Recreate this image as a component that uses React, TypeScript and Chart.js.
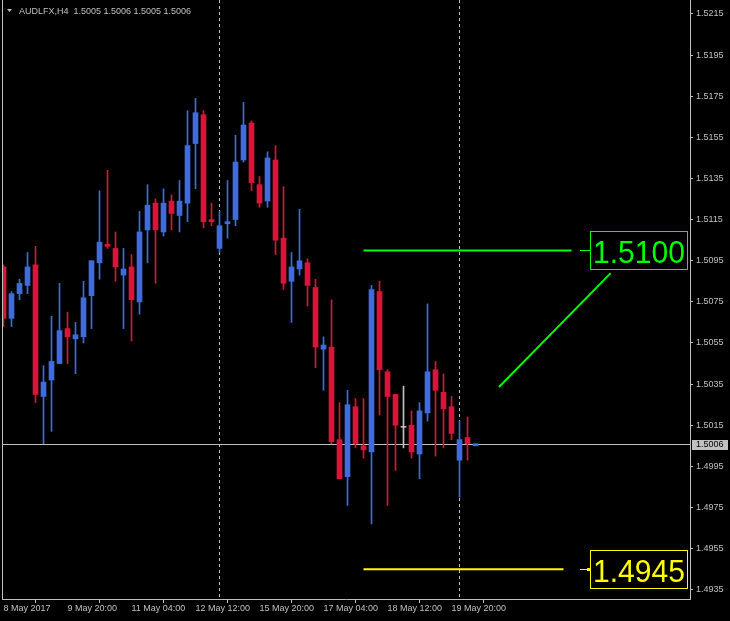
import React, { useEffect, useRef } from 'react';
import { Chart, registerables } from 'chart.js';

Chart.register(...registerables);

const symbol = 'AUDLFX';
const timeframe = 'H4';

const opens = [
  1.5092, 1.5067, 1.5079, 1.5083, 1.5093, 1.5029, 1.5037, 1.5045, 1.5062, 1.5057,
  1.5058, 1.5078, 1.5094, 1.5103, 1.5101, 1.5088, 1.5092, 1.5075, 1.5110, 1.5123,
  1.5109, 1.5124, 1.5117, 1.5123, 1.5152, 1.5166, 1.5115, 1.5101, 1.5113, 1.5115,
  1.5144, 1.5162, 1.5132, 1.5124, 1.5144, 1.5106, 1.5085, 1.5091, 1.5094, 1.5082,
  1.5052, 1.5053, 1.5008, 1.4990, 1.5024, 1.5005, 1.5002, 1.5080, 1.5041, 1.5030,
  1.5014, 1.5015, 1.5001, 1.5021, 1.5042, 1.5031, 1.5024, 1.4998, 1.5009, 1.5005,
];
const highs = [
  1.5093, 1.5080, 1.5086, 1.5099, 1.5102, 1.5044, 1.5068, 1.5084, 1.5070, 1.5065,
  1.5085, 1.5095, 1.5129, 1.5139, 1.5109, 1.5101, 1.5098, 1.5119, 1.5132, 1.5125,
  1.5130, 1.5127, 1.5134, 1.5168, 1.5174, 1.5168, 1.5123, 1.5119, 1.5134, 1.5156,
  1.5172, 1.5163, 1.5136, 1.5148, 1.5151, 1.5131, 1.5099, 1.5120, 1.5096, 1.5086,
  1.5058, 1.5076, 1.5026, 1.5032, 1.5028, 1.5028, 1.5083, 1.5085, 1.5042, 1.5030,
  1.5034, 1.5022, 1.5026, 1.5074, 1.5046, 1.5040, 1.5029, 1.5017, 1.5019, 1.5006,
];
const lows = [
  1.5063, 1.5063, 1.5076, 1.5079, 1.5026, 1.5006, 1.5012, 1.5045, 1.5045, 1.5040,
  1.5055, 1.5062, 1.5086, 1.5101, 1.5085, 1.5062, 1.5056, 1.5069, 1.5094, 1.5084,
  1.5107, 1.5110, 1.5109, 1.5114, 1.5130, 1.5111, 1.5112, 1.5099, 1.5106, 1.5112,
  1.5143, 1.5129, 1.5121, 1.5121, 1.5098, 1.5081, 1.5065, 1.5088, 1.5073, 1.5043,
  1.5032, 1.5006, 1.4989, 1.4976, 1.5004, 1.4999, 1.4967, 1.5020, 1.4976, 1.4993,
  1.5004, 1.4999, 1.4989, 1.5017, 1.5000, 1.5004, 1.5008, 1.4980, 1.4998, 1.5005,
];
const closes = [
  1.5067, 1.5079, 1.5084, 1.5092, 1.5030, 1.5036, 1.5046, 1.5061, 1.5058, 1.5059,
  1.5077, 1.5095, 1.5104, 1.5102, 1.5092, 1.5091, 1.5076, 1.5109, 1.5122, 1.5110,
  1.5123, 1.5118, 1.5124, 1.5151, 1.5167, 1.5114, 1.5114, 1.5112, 1.5114, 1.5143,
  1.5161, 1.5133, 1.5123, 1.5145, 1.5105, 1.5084, 1.5092, 1.5095, 1.5083, 1.5053,
  1.5054, 1.5007, 1.4989, 1.5025, 1.5006, 1.5003, 1.5081, 1.5042, 1.5029, 1.5015,
  1.5014, 1.5002, 1.5022, 1.5041, 1.5032, 1.5023, 1.5011, 1.5008, 1.5006, 1.5006,
];

const timeTickIndex = [0, 8, 16, 24, 32, 40, 48, 56];
const timeTickLabels = [
  '8 May 2017', '9 May 20:00', '11 May 04:00', '12 May 12:00',
  '15 May 20:00', '17 May 04:00', '18 May 12:00', '19 May 20:00',
];
const weekSeparators = [27, 57];
const priceTicks = [
  1.5215, 1.5195, 1.5175, 1.5155, 1.5135, 1.5115, 1.5095, 1.5075,
  1.5055, 1.5035, 1.5015, 1.4995, 1.4975, 1.4955, 1.4935,
];
const bidPrice = 1.5006;

const levelPrices = [1.51, 1.4945];
const levelColors = ['#00ff00', '#ffff00'];
const levelFrom = [45, 45];
const levelTo = [71, 70];
const levelLabelFrom = 73.3;
const levelLabelTo = 85.4;

const trendX = [61.94, 75.9];
const trendY = [1.50336, 1.5089];

const X_MIN = -0.1875;
const X_MAX = 85.8125;
const Y_MIN = 1.49305;
const Y_MAX = 1.52218;

const BULL = '#4169e1';
const BEAR = '#dc143c';
const DOJI = '#c0c0c0';
const FG = '#c0c0c0';
const FONT = 'Liberation Sans';

const candleColors = opens.map((o, i) =>
  closes[i] > o ? BULL : closes[i] < o ? BEAR : DOJI
);

const mtPlugin = {
  id: 'mtPlugin',
  beforeDraw(chart: any) {
    const { ctx, width, height } = chart;
    ctx.save();
    ctx.fillStyle = '#000';
    ctx.fillRect(0, 0, width, height);
    ctx.restore();
  },
  beforeDatasetsDraw(chart: any) {
    const { ctx, chartArea, scales } = chart;
    const xs = scales.x;
    const ys = scales.y;
    ctx.save();
    ctx.strokeStyle = FG;
    ctx.lineWidth = 1;
    ctx.setLineDash([3, 3]);
    weekSeparators.forEach((idx) => {
      const px = Math.floor(xs.getPixelForValue(idx)) + 0.5;
      ctx.beginPath();
      ctx.moveTo(px, chartArea.top);
      ctx.lineTo(px, chartArea.bottom);
      ctx.stroke();
    });
    ctx.setLineDash([]);
    const by = Math.round(ys.getPixelForValue(bidPrice)) + 0.5;
    ctx.beginPath();
    ctx.moveTo(chartArea.left, by);
    ctx.lineTo(chartArea.right, by);
    ctx.stroke();
    ctx.restore();
  },
  afterDraw(chart: any) {
    const { ctx, chartArea, scales } = chart;
    const xs = scales.x;
    const ys = scales.y;
    ctx.save();
    ctx.fillStyle = FG;
    ctx.fillRect(chartArea.left, chartArea.top, 1, chartArea.bottom - chartArea.top);

    ctx.beginPath();
    ctx.moveTo(7, 9);
    ctx.lineTo(12, 9);
    ctx.lineTo(9.5, 12);
    ctx.closePath();
    ctx.fill();
    const n = opens.length - 1;
    const header =
      `${symbol},${timeframe}  ` +
      [opens[n], highs[n], lows[n], closes[n]].map((v) => v.toFixed(4)).join(' ');
    ctx.font = `9px "${FONT}"`;
    ctx.textBaseline = 'alphabetic';
    ctx.textAlign = 'left';
    ctx.fillText(header, 19, 14);

    levelPrices.forEach((p, i) => {
      const py = Math.round(ys.getPixelForValue(p));
      const bx0 = Math.round(xs.getPixelForValue(levelLabelFrom));
      const bx1 = Math.round(xs.getPixelForValue(levelLabelTo));
      ctx.strokeStyle = levelColors[i];
      ctx.fillStyle = levelColors[i];
      ctx.lineWidth = 1;
      ctx.strokeRect(bx0 + 0.5, py - 19 + 0.5, bx1 - bx0, 38);
      ctx.fillRect(bx0 - 10, py, 10, 1);
      if (i === 1) ctx.fillRect(bx0 - 3, py - 1, 3, 3);
      ctx.font = `32px "${FONT}"`;
      ctx.textBaseline = 'alphabetic';
      ctx.fillText(p.toFixed(4), bx0 + 3, py + 13, bx1 - bx0 - 5);
    });

    const by = Math.round(ys.getPixelForValue(bidPrice));
    ctx.fillStyle = FG;
    ctx.fillRect(chartArea.right + 2, by - 4, 36, 10);
    ctx.fillStyle = '#000';
    ctx.font = `9px "${FONT}"`;
    ctx.textBaseline = 'middle';
    ctx.fillText(bidPrice.toFixed(4), chartArea.right + 6, by + 1);
    ctx.restore();
  },
};

const zeroPadding = (s: any) => {
  s.paddingTop = 0;
  s.paddingBottom = 0;
  s.paddingLeft = 0;
  s.paddingRight = 0;
};

export default function App() {
  const ref = useRef<HTMLCanvasElement>(null);
  useEffect(() => {
    document.body.style.margin = '0';
    document.body.style.background = '#000';
    const wicks = opens.map((_, i) => ({ x: i, y: [lows[i], highs[i]] }));
    const bodies = opens.map((o, i) => ({ x: i, y: [o, closes[i]] }));
    const lineDs = (pts: { x: number; y: number }[], color: string, width: number) => ({
      type: 'line' as const,
      data: pts,
      borderColor: color,
      borderWidth: width,
      pointRadius: 0,
      fill: false,
      order: -1,
    });
    const chart = new Chart(ref.current as HTMLCanvasElement, {
      type: 'bar',
      data: {
        datasets: [
          {
            data: bodies as any,
            backgroundColor: candleColors,
            barThickness: 5,
            minBarLength: 1,
            grouped: false,
            borderWidth: 0,
            order: 0,
          } as any,
          {
            data: wicks as any,
            backgroundColor: candleColors,
            barThickness: 1,
            grouped: false,
            borderWidth: 0,
            order: 1,
          } as any,
          ...levelPrices.map((p, i) =>
            lineDs([{ x: levelFrom[i], y: p }, { x: levelTo[i], y: p }], levelColors[i], 2)
          ),
          lineDs(
            [{ x: trendX[0], y: trendY[0] }, { x: trendX[1], y: trendY[1] }],
            '#00ff00',
            2
          ),
        ] as any,
      },
      options: {
        animation: false,
        responsive: false,
        devicePixelRatio: 1,
        events: [],
        layout: { padding: { left: 2, top: 0, right: 0, bottom: 0 } },
        plugins: { legend: { display: false }, tooltip: { enabled: false } },
        scales: {
          x: {
            type: 'linear',
            min: X_MIN,
            max: X_MAX,
            offset: false,
            afterFit: (s: any) => {
              s.height = 22;
              zeroPadding(s);
            },
            afterBuildTicks: (s: any) => {
              s.ticks = timeTickIndex.map((v) => ({ value: v }));
            },
            grid: { drawOnChartArea: false, color: FG, tickLength: 4 },
            border: { color: FG, width: 1 },
            ticks: {
              autoSkip: false,
              maxRotation: 0,
              align: 'start',
              padding: 0,
              color: FG,
              font: { family: FONT, size: 9 },
              callback: (v: any) => {
                const k = timeTickIndex.indexOf(Number(v));
                return k >= 0 ? timeTickLabels[k] : '';
              },
            },
          },
          y: {
            type: 'linear',
            position: 'right',
            min: Y_MIN,
            max: Y_MAX,
            afterFit: (s: any) => {
              s.width = 40;
              zeroPadding(s);
            },
            afterBuildTicks: (s: any) => {
              s.ticks = priceTicks.map((v) => ({ value: v }));
            },
            grid: { drawOnChartArea: false, color: FG, tickLength: 3 },
            border: { color: FG, width: 1 },
            ticks: {
              autoSkip: false,
              padding: 3,
              color: FG,
              font: { family: FONT, size: 9 },
              callback: (v: any) => Number(v).toFixed(4),
            },
          },
        },
      } as any,
      plugins: [mtPlugin],
    });
    return () => chart.destroy();
  }, []);
  return (
    <div style={{ position: 'fixed', left: 0, top: 0, width: 730, height: 621, background: '#000' }}>
      <canvas ref={ref} width={730} height={621} style={{ display: 'block' }} />
    </div>
  );
}
